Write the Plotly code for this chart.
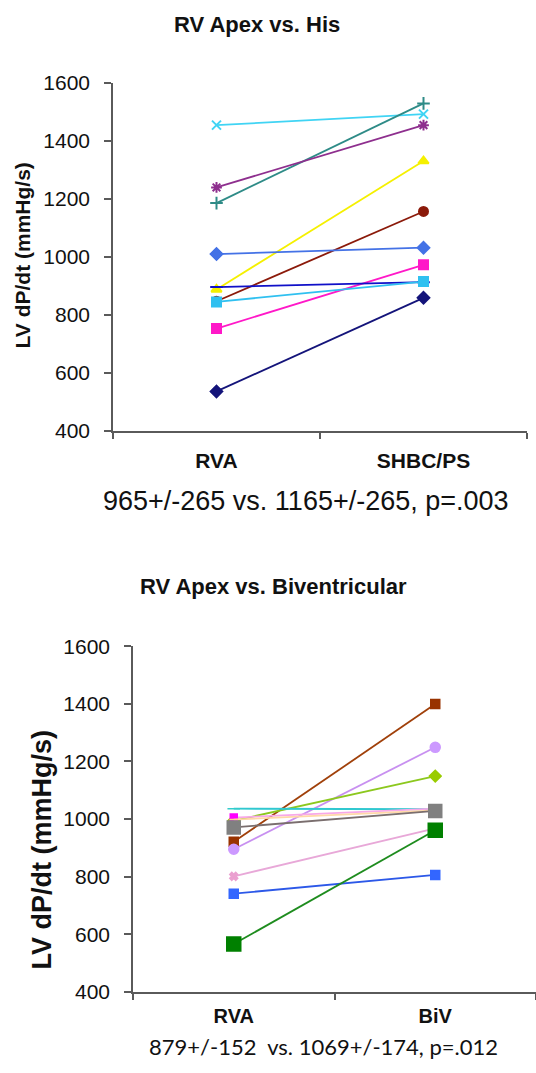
import plotly.graph_objects as go

W, H = 536, 1073

# ---------------- data ----------------
top_categories = ["RVA", "SHBC/PS"]
bot_categories = ["RVA", "BiV"]

top_series_names = ["s1", "s2", "s3", "s4", "s5", "s6", "s7", "s8", "s9", "s10"]
top_rva  = [1455, 1186, 1240, 888, 847, 1010, 753, 896, 845, 536]
top_shbc = [1493, 1530, 1455, 1331, 1157, 1032, 973, 913, 915, 859]
top_colors  = ["#40d4f4", "#2e8b87", "#8e2f8e", "#f5f000", "#8b1a0a",
               "#4472e6", "#ff18c8", "#1010c8", "#30c0f0", "#14147a"]
top_symbols = ["x-thin", "cross-thin", "asterisk", "triangle-up", "circle",
               "diamond", "square", "line-ew", "square", "diamond"]

bot_series_names = ["b1", "b2", "b3", "b4", "b5", "b6", "b7", "b8", "b9", "b10"]
bot_rva = [921, 895, 994, 1036, 1005, 998, 971, 801, 741, 566]
bot_biv = [1399, 1249, 1149, 1034, 1036, 1030, 1028, 968, 806, 961]
bot_colors  = ["#a0400a", "#c890f0", "#8cc81e", "#30c8d0", "#f8a8e8",
               "#ffd8a8", "#7a6e6e", "#e8a8d8", "#2c58e8", "#1e8c1e"]
bot_mcolors = ["#993300", "#cc99ff", "#99cc00", "#33cccc", "#ff00ff",
               "#ffcc99", "#808080", "#eba0d0", "#3366ff", "#008000"]
bot_symbols = ["square", "circle", "diamond", "line-ew", "square",
               "line-ew", "square", "x", "square", "square"]
bot_sizes   = [9, 10, 9, 9, 7, 6, 13, 7, 9, 14]

top_title = "RV Apex vs. His"
bot_title = "RV Apex vs. Biventricular"
top_stats = "965+/-265 vs. 1165+/-265, p=.003"
bot_stats = "879+/-152  vs. 1069+/-174, p=.012"
ylabel = "LV dP/dt (mmHg/s)"
y_ticks = [400, 600, 800, 1000, 1200, 1400, 1600]

# ---------------- figure ----------------
fig = go.Figure()

# the captured picture shows the paper at rows ~12..1060
OFF, SPAN = 12.0, 1048.0

def px_x(p):
    return p / W

def px_y(p):
    return 1 - (p - OFF) / SPAN

for i in range(len(top_rva)):
    fig.add_trace(go.Scatter(
        x=[0, 1], y=[top_rva[i], top_shbc[i]], mode="lines+markers",
        name=top_series_names[i], xaxis="x", yaxis="y",
        line=dict(color=top_colors[i], width=1.8),
        marker=dict(symbol=top_symbols[i], size=9, color=top_colors[i],
                    line=dict(color=top_colors[i], width=2)),
        showlegend=False, hoverinfo="skip"))

for i in range(len(bot_rva)):
    fig.add_trace(go.Scatter(
        x=[0, 1], y=[bot_rva[i], bot_biv[i]], mode="lines+markers",
        name=bot_series_names[i], xaxis="x2", yaxis="y2",
        line=dict(color=bot_colors[i], width=1.8),
        marker=dict(symbol=bot_symbols[i], size=bot_sizes[i], color=bot_mcolors[i],
                    line=dict(color=bot_mcolors[i], width=1.5)),
        showlegend=False, hoverinfo="skip"))

axis_col = "#5a5a5a"
FAM = "Liberation Sans, Arial, sans-serif"
tickfont = dict(family=FAM, size=21, color="#111")

def xaxis(dom, anchor, cats, standoff, fsize):
    return dict(domain=dom, anchor=anchor, range=[-0.5, 1.5],
                tickvals=[0, 1], ticktext=cats, ticks="",
                showline=True, linecolor=axis_col, linewidth=1.5,
                showgrid=False, zeroline=False,
                tickfont=dict(family=FAM, size=fsize, color="#111", weight="bold"),
                ticklabelstandoff=standoff,
                minor=dict(tickvals=[-0.5, 0.5, 1.5], ticks="outside",
                           ticklen=6, tickwidth=1.5, tickcolor=axis_col))

def yaxis(dom, anchor):
    return dict(domain=dom, anchor=anchor, range=[400, 1600],
                tickvals=y_ticks, ticks="outside", ticklen=7, tickwidth=1.5,
                tickcolor=axis_col, showline=True, linecolor=axis_col,
                linewidth=1.5, showgrid=False, zeroline=False,
                tickfont=tickfont, ticklabelstandoff=10)

fig.update_layout(
    width=W, height=H, autosize=False,
    margin=dict(l=0, r=0, t=0, b=0),
    paper_bgcolor="white", plot_bgcolor="white",
    xaxis=xaxis([px_x(113), px_x(527)], "y", top_categories, 10, 21),
    yaxis=yaxis([px_y(430), px_y(83)], "x"),
    xaxis2=xaxis([px_x(133), px_x(536)], "y2", bot_categories, 5, 20),
    yaxis2=yaxis([px_y(990), px_y(645)], "x2"),
)

title_font = dict(family=FAM, size=22, color="#111", weight="bold")

def ann(text, x, y, font, angle=0, yanchor="middle"):
    fig.add_annotation(text=text, x=px_x(x), y=y if isinstance(y, float) else px_y(y),
                       xref="paper", yref="paper",
                       xanchor="center", yanchor=yanchor, showarrow=False,
                       font=font, textangle=angle)

ann(top_title, 257, 24, title_font)
ann(bot_title, 273, 585, title_font)
ann(ylabel, 22, 255, dict(family=FAM, size=21, color="#111", weight="bold"), -90)
ann(ylabel, 42, 848, dict(family=FAM, size=27, color="#111", weight="bold"), -90)
ann(top_stats, 306, 500, dict(family=FAM, size=27, color="#111"))
ann(bot_stats, 323, 0.0, dict(family="Lato, sans-serif", size=22, color="#111"),
    yanchor="bottom")

fig.write_html("out.html", config={"displayModeBar": False},
               post_script="document.body.style.margin='0';document.body.style.overflow='hidden';")
